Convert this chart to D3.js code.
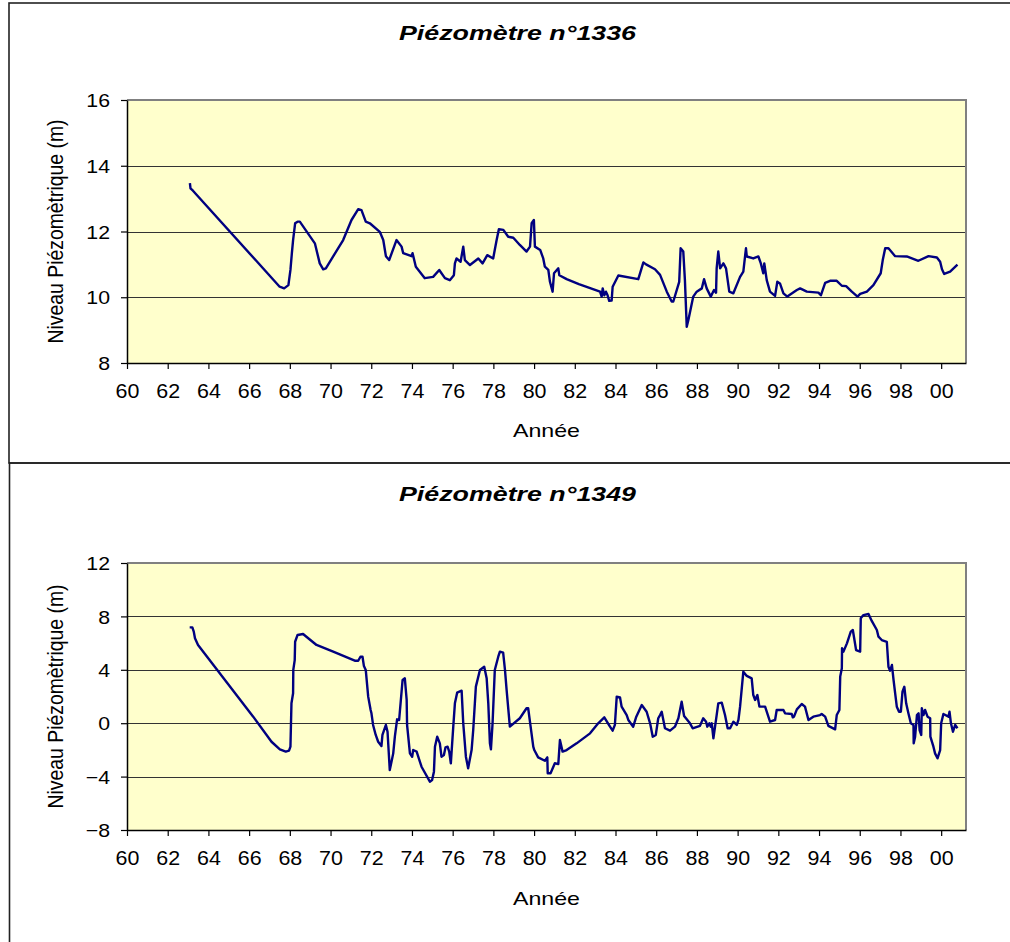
<!DOCTYPE html>
<html><head><meta charset="utf-8">
<script src="https://cdn.jsdelivr.net/npm/d3@7"></script>
<style>
html,body{margin:0;padding:0;background:#fff;}
svg{display:block;font-family:"Liberation Sans",Arial,sans-serif;}
</style></head>
<body>
<svg id="c" width="1010" height="942"></svg>
<script>
// ---- Data ----
const xTickValues = [60,62,64,66,68,70,72,74,76,78,80,82,84,86,88,90,92,94,96,98,100];
const xTickLabels = ["60","62","64","66","68","70","72","74","76","78","80","82","84","86","88","90","92","94","96","98","00"];
const yTicks1336 = [8,10,12,14,16];
const yTicks1349 = [-8,-4,0,4,8,12];
const titles = ["Piézomètre n°1336","Piézomètre n°1349"];
const xAxisTitle = "Année";
const yAxisTitle = "Niveau Piézomètrique (m)";

const years1336 = [63.09,63.12,63.24,67.50,67.72,67.93,68.03,68.10,68.16,68.26,68.38,68.49,69.23,69.47,69.64,69.77,70.62,71.03,71.36,71.52,71.73,71.93,72.42,72.59,72.72,72.88,73.24,73.49,73.57,73.98,74.03,74.19,74.63,75.04,75.34,75.62,75.86,76.06,76.11,76.19,76.39,76.52,76.60,76.85,77.26,77.47,77.70,77.99,78.16,78.27,78.49,78.73,78.98,79.30,79.63,79.80,79.88,79.99,80.04,80.30,80.45,80.53,80.70,80.78,80.91,80.98,81.19,81.24,81.60,82.20,83.24,83.32,83.37,83.45,83.53,83.61,83.69,83.81,83.86,84.14,85.12,85.37,85.50,85.94,86.19,86.52,86.76,86.84,87.13,87.20,87.33,87.41,87.50,87.58,87.82,87.99,88.24,88.35,88.48,88.68,88.84,88.94,88.97,89.05,89.14,89.30,89.43,89.59,89.79,90.12,90.28,90.41,90.45,90.77,91.02,91.14,91.26,91.31,91.43,91.59,91.84,91.95,92.08,92.25,92.44,92.91,93.07,93.40,93.97,94.09,94.30,94.54,94.87,95.12,95.33,95.61,95.89,96.02,96.35,96.67,97.03,97.13,97.25,97.41,97.74,98.31,98.88,99.38,99.79,99.95,100.04,100.15,100.44,100.80];
const level1336 = [13.47,13.31,13.24,10.32,10.27,10.37,10.83,11.34,11.74,12.25,12.30,12.30,11.64,11.03,10.85,10.88,11.74,12.35,12.68,12.65,12.30,12.25,11.99,11.74,11.25,11.13,11.74,11.54,11.34,11.25,11.34,10.93,10.58,10.62,10.83,10.58,10.52,10.67,11.03,11.18,11.08,11.54,11.13,10.98,11.18,11.03,11.28,11.18,11.74,12.07,12.05,11.84,11.81,11.59,11.39,11.54,12.25,12.35,11.54,11.44,11.18,10.93,10.83,10.47,10.17,10.73,10.88,10.67,10.55,10.40,10.17,10.02,10.27,10.06,10.17,10.06,9.89,9.90,10.32,10.66,10.55,11.06,11.00,10.85,10.68,10.17,9.87,9.87,10.47,11.49,11.39,10.52,9.10,9.31,10.02,10.17,10.27,10.55,10.27,10.02,10.22,10.14,10.88,11.39,10.88,11.03,10.88,10.17,10.12,10.62,10.78,11.49,11.24,11.18,11.24,11.03,10.73,11.03,10.52,10.17,10.04,10.47,10.42,10.12,10.02,10.22,10.27,10.17,10.14,10.06,10.44,10.50,10.50,10.35,10.34,10.17,10.02,10.10,10.17,10.37,10.73,11.13,11.49,11.49,11.25,11.24,11.11,11.25,11.21,11.08,10.85,10.71,10.78,10.99];

const years1349 = [63.08,63.21,63.28,63.34,63.49,66.20,67.10,67.51,67.80,67.96,68.03,68.08,68.16,68.17,68.24,68.26,68.38,68.65,69.31,70.13,71.19,71.36,71.47,71.57,71.64,71.73,71.85,71.97,72.01,72.09,72.22,72.34,72.50,72.55,72.72,72.80,72.91,73.08,73.16,73.27,73.37,73.54,73.65,73.74,73.76,73.90,74.01,74.06,74.23,74.47,74.88,74.99,75.08,75.13,75.24,75.37,75.45,75.57,75.65,75.75,75.83,75.91,76.03,76.11,76.22,76.44,76.52,76.65,76.76,76.93,77.01,77.14,77.34,77.55,77.67,77.75,77.83,77.88,77.96,78.07,78.24,78.32,78.48,78.57,78.65,78.81,79.30,79.63,79.71,79.83,79.96,80.01,80.20,80.53,80.65,80.67,80.81,81.02,81.19,81.27,81.40,81.60,82.09,82.75,83.15,83.45,83.73,83.86,83.97,84.06,84.22,84.30,84.55,84.63,84.87,85.01,85.29,85.53,85.70,85.83,85.98,86.10,86.19,86.27,86.35,86.43,86.68,86.92,87.09,87.25,87.37,87.66,87.79,88.15,88.31,88.45,88.51,88.61,88.68,88.73,88.81,88.97,89.05,89.22,89.38,89.51,89.63,89.79,89.96,90.04,90.12,90.28,90.45,90.69,90.77,90.86,90.97,91.07,91.35,91.51,91.59,91.84,91.92,92.25,92.33,92.66,92.71,92.77,92.91,93.15,93.31,93.48,93.72,94.05,94.13,94.30,94.46,94.79,94.87,95.00,95.04,95.12,95.13,95.20,95.37,95.56,95.66,95.82,96.02,96.05,96.18,96.43,96.59,96.84,96.92,97.08,97.33,97.41,97.49,97.58,97.66,97.74,97.82,97.93,98.02,98.10,98.19,98.28,98.39,98.51,98.64,98.65,98.72,98.81,98.89,98.94,99.02,99.05,99.13,99.21,99.33,99.46,99.47,99.62,99.70,99.82,99.95,100.00,100.11,100.36,100.41,100.48,100.58,100.69,100.80];
const level1349 = [7.18,7.18,6.86,6.36,5.86,0.49,-1.39,-1.96,-2.13,-2.06,-1.76,1.49,2.24,3.99,4.73,6.10,6.61,6.68,5.86,5.36,4.68,4.68,4.98,4.98,4.28,3.99,1.99,0.99,0.74,-0.13,-0.88,-1.39,-1.71,-0.88,-0.13,-0.64,-3.51,-2.26,-1.01,0.29,0.24,3.24,3.36,1.74,-0.13,-2.26,-2.51,-2.01,-2.13,-3.26,-4.38,-4.26,-3.63,-1.76,-1.01,-1.51,-2.51,-2.38,-1.81,-1.76,-2.13,-3.01,-0.26,1.49,2.29,2.44,-0.01,-2.51,-3.38,-2.01,-0.51,2.74,3.99,4.23,3.36,1.49,-1.51,-1.96,-0.01,3.99,4.98,5.36,5.28,3.99,2.49,-0.26,0.37,1.12,1.12,-0.26,-1.76,-2.01,-2.56,-2.81,-2.56,-3.75,-3.75,-3.00,-3.06,-1.26,-2.13,-2.01,-1.51,-0.76,-0.01,0.44,-0.26,-0.56,-0.13,1.99,1.94,1.24,0.61,0.24,-0.26,0.44,1.36,0.86,-0.01,-1.01,-0.88,0.37,0.61,0.86,0.24,-0.38,-0.56,-0.26,0.37,1.61,0.54,-0.01,-0.38,-0.20,0.37,0.11,-0.26,-0.01,-0.26,-0.01,-1.13,0.61,1.49,1.54,0.61,-0.38,-0.38,0.11,-0.13,0.24,1.24,3.86,3.54,3.36,2.11,1.74,2.11,1.24,1.24,0.49,0.11,0.24,0.99,0.99,0.74,0.69,0.44,0.49,1.04,1.44,1.24,0.24,0.49,0.61,0.69,0.49,-0.20,-0.46,0.61,0.99,3.49,4.11,5.61,5.36,5.98,6.86,6.98,5.48,5.36,7.86,8.10,8.18,7.66,6.98,6.48,6.23,6.10,4.23,3.93,4.36,3.24,2.24,1.24,0.86,0.86,2.36,2.73,1.49,0.74,-0.01,-0.13,-1.51,-1.01,0.61,0.74,-0.51,-0.88,1.12,0.61,0.99,0.49,0.37,-1.01,-1.76,-2.26,-2.63,-2.01,-0.01,0.69,0.49,0.86,-0.01,-0.64,-0.13,-0.38];

// ---- Drawing ----
const svg = d3.select("#c");
const FONT = '"Liberation Sans",Arial,sans-serif';
const plotLeft = 127, plotRight = 966;

// outer frames
svg.append("rect").attr("x",9).attr("y",3).attr("width",1100).attr("height",460)
  .attr("fill","none").attr("stroke","#222").attr("stroke-width",1.6);
svg.append("rect").attr("x",9.5).attr("y",463).attr("width",1100).attr("height",600)
  .attr("fill","none").attr("stroke","#222").attr("stroke-width",1.6);

function stretch(sel, k){
  sel.each(function(){
    const w = this.getComputedTextLength();
    d3.select(this).attr("textLength", w*k).attr("lengthAdjust","spacingAndGlyphs");
  });
}

const x = d3.scaleLinear().domain([60, 101.22]).range([plotLeft, plotRight]);

function panel(cfg){
  const y = d3.scaleLinear().domain(cfg.yDomain).range([cfg.bottom, cfg.top]);
  const g = svg.append("g");
  g.append("rect").attr("x",plotLeft).attr("y",cfg.top)
    .attr("width",plotRight-plotLeft).attr("height",cfg.bottom-cfg.top).attr("fill","#FFFFCC");
  g.selectAll("line.grid").data(cfg.yTicks.filter(v=>v!==cfg.yDomain[0] && v!==cfg.yDomain[1]))
    .enter().append("line")
    .attr("x1",plotLeft).attr("x2",plotRight)
    .attr("y1",d=>Math.round(y(d))+0.5).attr("y2",d=>Math.round(y(d))+0.5)
    .attr("stroke","#333").attr("stroke-width",1);
  g.append("path")
    .attr("d",`M${plotLeft},${cfg.top}H${plotRight}V${cfg.bottom}`)
    .attr("fill","none").attr("stroke","#808080").attr("stroke-width",2);
  const pts = cfg.years.map((yr,i)=>[yr, cfg.levels[i]]);
  g.append("path").datum(pts)
    .attr("d", d3.line().x(d=>x(d[0])).y(d=>y(d[1])))
    .attr("fill","none").attr("stroke","#000080").attr("stroke-width",2.4)
    .attr("stroke-linejoin","round");
  const ya = g.append("g").attr("transform",`translate(${plotLeft},0)`)
    .call(d3.axisLeft(y).tickValues(cfg.yTicks).tickSize(6).tickSizeOuter(0).tickPadding(11).tickFormat(d3.format("d")));
  ya.select(".domain").attr("stroke","#000").attr("stroke-width",1.5);
  ya.selectAll(".tick line").attr("stroke","#000").attr("stroke-width",1.2);
  const yl = ya.selectAll(".tick text").attr("font-family",FONT).attr("font-size",18.5).attr("fill","#000").attr("dy","0.36em");
  stretch(yl, 1.15);
  const xa = g.append("g").attr("transform",`translate(0,${cfg.bottom})`)
    .call(d3.axisBottom(x).tickValues(xTickValues).tickSize(6).tickSizeOuter(0).tickPadding(15)
      .tickFormat((d,i)=>xTickLabels[i]));
  xa.select(".domain").attr("stroke","#000").attr("stroke-width",1.5);
  xa.selectAll(".tick line").attr("stroke","#000").attr("stroke-width",1.2);
  const xl = xa.selectAll(".tick text").attr("font-family",FONT).attr("font-size",19.5).attr("fill","#000");
  stretch(xl, 1.1);
  svg.append("text").attr("x",517.5).attr("y",cfg.titleY).attr("text-anchor","middle")
    .attr("font-family",FONT).attr("font-weight","bold").attr("font-style","italic")
    .attr("font-size",20).attr("fill","#000").text(cfg.title)
    .attr("textLength",237).attr("lengthAdjust","spacingAndGlyphs");
  svg.append("text").attr("x",(plotLeft+plotRight)/2).attr("y",cfg.anneeY).attr("text-anchor","middle")
    .attr("font-family",FONT).attr("font-size",19).attr("fill","#000").text(xAxisTitle)
    .attr("textLength",67).attr("lengthAdjust","spacingAndGlyphs");
  svg.append("text").attr("transform",`translate(63,${(cfg.top+cfg.bottom)/2}) rotate(-90) scale(1,1.2)`)
    .attr("text-anchor","middle").attr("font-family",FONT).attr("font-size",19).attr("fill","#000")
    .text(yAxisTitle).attr("textLength",224).attr("lengthAdjust","spacingAndGlyphs");
}

panel({top:100, bottom:363, yDomain:[8,16], yTicks:yTicks1336, years:years1336, levels:level1336,
  title:titles[0], titleY:40, anneeY:437});
panel({top:563, bottom:830, yDomain:[-8,12], yTicks:yTicks1349, years:years1349, levels:level1349,
  title:titles[1], titleY:501, anneeY:905});
</script>
</body></html>
